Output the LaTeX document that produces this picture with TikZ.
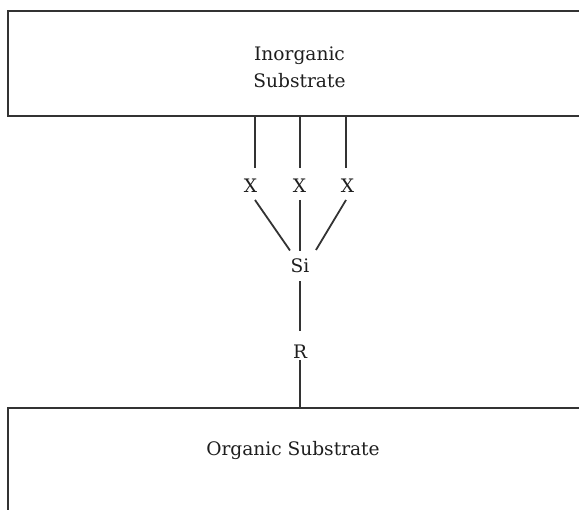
\documentclass[tikz,border=0pt]{standalone}
\usepackage{fontspec}
\setmainfont{DejaVu Serif}
\definecolor{ink}{HTML}{333333}
\definecolor{txt}{HTML}{1E1E1E}
\tikzset{
  conn/.style={draw=ink, line width=1.8pt},
  boxline/.style={draw=ink, line width=1.8pt},
  lbl/.style={inner sep=0pt, outer sep=0pt, text=txt, font=\fontsize{18.6}{27}\selectfont},
}
\begin{document}
\begin{tikzpicture}[x=1pt,y=-1pt]
\useasboundingbox (0,0) rectangle (579,510);
\clip (0,0) rectangle (579,510);
% boxes
\draw[boxline] (8,11) rectangle (620,116);
\draw[boxline] (8,540) -- (8,408) -- (620,408);
% labels
\node[lbl, align=center, anchor=center] (inorg) at (299.5,67) {Inorganic\\Substrate};
\node[lbl, anchor=base] (org) at (293,456) {Organic Substrate};
\node[lbl, anchor=base] (x1) at (250.5,193) {X};
\node[lbl, anchor=base] (x2) at (299.5,193) {X};
\node[lbl, anchor=base] (x3) at (347.5,193) {X};
\node[lbl, anchor=base] (si) at (300,273) {Si};
\node[lbl, anchor=base] (r) at (300,358.5) {R};
% attachment points
\coordinate (t1) at (255,116);
\coordinate (t2) at (300,116);
\coordinate (t3) at (346,116);
\coordinate (b) at (300,408);
% connectors
\draw[conn, shorten >=11.5pt] (t1) -- (t1 |- x1.north);
\draw[conn, shorten >=11.5pt] (t2) -- (t2 |- x2.north);
\draw[conn, shorten >=11.5pt] (t3) -- (t3 |- x3.north);
\draw[conn] ([xshift=4.5pt,yshift=-7pt]x1.south) -- ([xshift=-10pt,yshift=8.7pt]si.north);
\draw[conn, shorten <=7pt, shorten >=8.2pt] (si.north |- x2.south) -- (si.north);
\draw[conn] ([xshift=-1.5pt,yshift=-7pt]x3.south) -- ([xshift=16pt,yshift=9.2pt]si.north);
\draw[conn, shorten <=8pt, shorten >=14pt] (si.south) -- (r.north);
\draw[conn, shorten <=1.5pt] (r.south) -- (b);
\end{tikzpicture}
\end{document}
